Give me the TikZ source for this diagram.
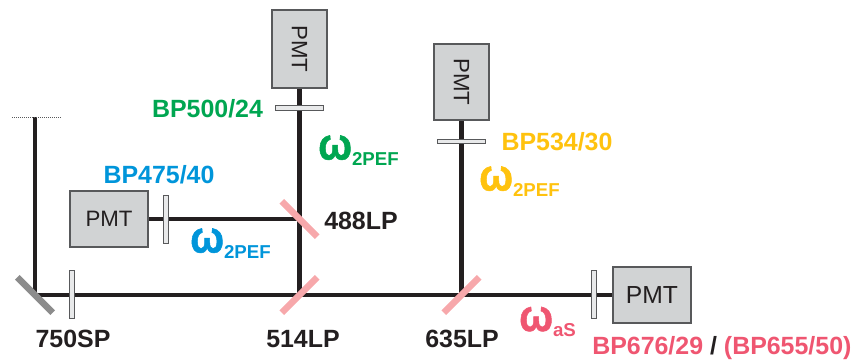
\documentclass[tikz,border=0pt]{standalone}
\usepackage{fontspec}
\setmainfont{Liberation Sans}
\newfontfamily\omfont[FakeBold=1.2]{Liberation Sans Bold}
\usetikzlibrary{backgrounds}
\definecolor{pmtgray}{HTML}{D1D3D4}
\definecolor{edgegray}{HTML}{58595B}
\definecolor{beamblack}{HTML}{231F20}
\definecolor{dichroicpink}{HTML}{F7A8AB}
\definecolor{sumgreen}{HTML}{00A651}
\definecolor{cfpblue}{HTML}{0095DA}
\definecolor{yfpyellow}{HTML}{FFC20E}
\definecolor{asred}{HTML}{EF5671}
\newcommand{\omlab}[1]{\scalebox{1}[1.12]{\fontsize{30}{30}\omfont ω}\fontsize{14}{14}\selectfont\raisebox{-4.5pt}{#1}}
\begin{document}
\begin{tikzpicture}[
  x=0.75pt, y=-0.75pt,
  pmt/.style={rectangle, draw=edgegray, fill=pmtgray, line width=1.5pt, inner sep=0pt, font=\fontsize{16.7}{18}\selectfont, text=beamblack},
  filt/.style={rectangle, draw=edgegray, fill=pmtgray!50, line width=0.6pt, inner sep=0pt, minimum width=3.6pt, minimum height=36.5pt},
  mirr/.style={rectangle, fill=dichroicpink, inner sep=0pt, minimum width=37.5pt, minimum height=5pt},
  beam/.style={draw=beamblack, line width=3.4pt},
  lab/.style={inner sep=0pt, font=\fontsize{18.7}{20}\selectfont\bfseries},
  om/.style={inner sep=0pt, anchor=base west, font=\bfseries}
]
\useasboundingbox (0,0) rectangle (857,363);
% detectors
\node[pmt, minimum width=58.5pt, minimum height=41.5pt] (pmtA) at (109,219) {PMT};
\node[pmt, minimum width=41.5pt, minimum height=59pt] (pmtB) at (299.5,49) {\rotatebox{-90}{PMT}};
\node[pmt, minimum width=41.5pt, minimum height=57.5pt] (pmtC) at (461.5,82) {\rotatebox{-90}{PMT}};
\node[pmt, minimum width=58.5pt, minimum height=42pt, font=\fontsize{18.5}{20}\selectfont] (pmtD) at (652,295) {PMT};
% mirrors
\node[mirr, fill=black!45, rotate=-45] (m750) at (35,295) {};
\node[mirr, rotate=45] (m514) at (299.5,295) {};
\node[mirr, rotate=-45] (m488) at (299.5,219) {};
\node[mirr, rotate=45] (m635) at (461.5,295) {};
% filters
\node[filt] (f750) at (72,294.5) {};
\node[filt] (fA) at (166,219.5) {};
\node[filt, rotate=90] (fB) at (299.5,108) {};
\node[filt, rotate=90] (fC) at (461.5,141.5) {};
\node[filt] (fD) at (594,294.5) {};
% beams
\coordinate (top) at (35,117);
\draw[densely dotted, edgegray, line width=0.5pt] (12,117) -- (61,117);
\begin{scope}[on background layer]
\draw[beam] (top) -- (m750.center) -- (pmtD.west);
\draw[beam] (pmtB.south) -- (m514.center);
\draw[beam] (pmtA.east) -- (m488.center);
\draw[beam] (pmtC.south) -- (m635.center);
\end{scope}
% labels
\node[lab, text=beamblack] (t750) at (73,339) {750SP};
\node[lab, text=beamblack] (t514) at (303,339) {514LP};
\node[lab, text=beamblack] (t635) at (462,339) {635LP};
\node[lab, text=beamblack] (t488) at (361,221) {488LP};
\node[lab, text=sumgreen] (tB) at (207.5,109) {BP500/24};
\node[lab, text=cfpblue] (tA) at (159,174.5) {BP475/40};
\node[lab, text=yfpyellow] (tC) at (557,142) {BP534/30};
\node[lab, text=asred, anchor=west] (tD) at (592,348) {BP676/29 \textcolor{beamblack}{/} (BP655/50)};
\node[om, text=sumgreen] (oB) at (318,159.5) {\omlab{2PEF}};
\node[om, text=cfpblue] (oA) at (190,252.5) {\omlab{2PEF}};
\node[om, text=yfpyellow] (oC) at (479,190.5) {\omlab{2PEF}};
\node[om, text=asred] (oD) at (519,331) {\omlab{aS}};
\end{tikzpicture}
\end{document}
